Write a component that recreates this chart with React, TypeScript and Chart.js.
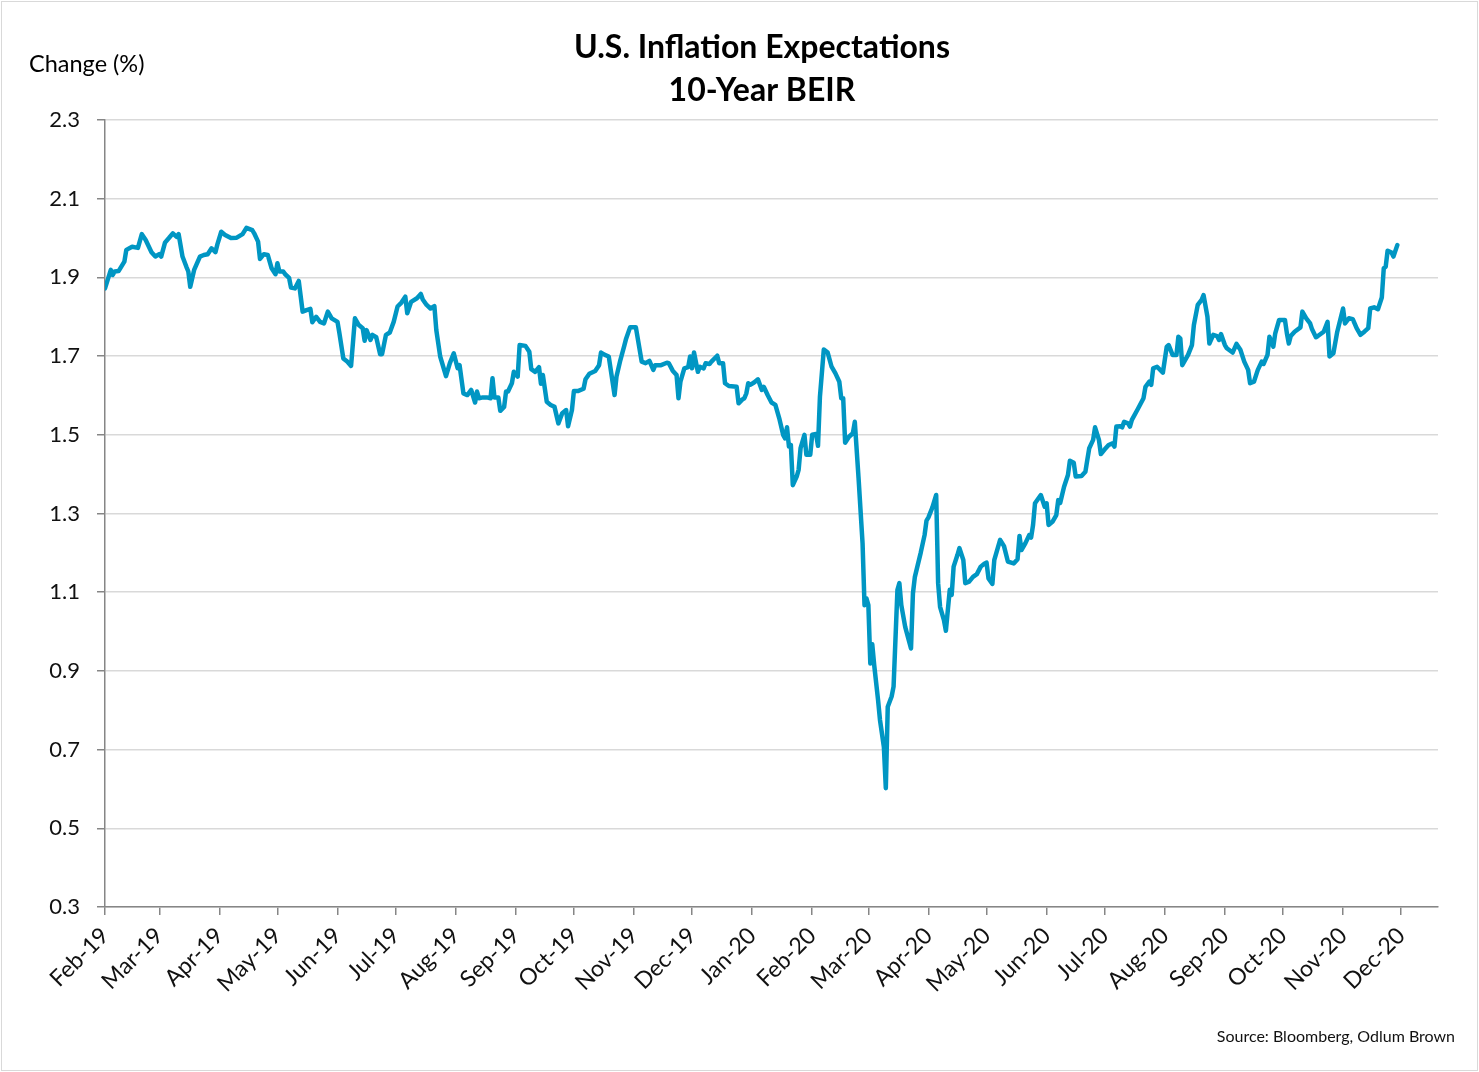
import React, { useEffect, useRef } from "react";
import { Chart, registerables } from "chart.js";

Chart.register(...registerables);

// ---- Data ----
const SERIES_NAME = "10-Year BEIR";

const dates: string[] = [
  "2019-02-01","2019-02-04","2019-02-05","2019-02-06","2019-02-08","2019-02-11","2019-02-12","2019-02-15","2019-02-18","2019-02-20",
  "2019-02-22","2019-02-25","2019-02-27","2019-03-01","2019-03-02","2019-03-04","2019-03-06","2019-03-08","2019-03-10","2019-03-11",
  "2019-03-13","2019-03-15","2019-03-16","2019-03-17","2019-03-19","2019-03-22","2019-03-24","2019-03-26","2019-03-28","2019-03-30",
  "2019-03-31","2019-04-02","2019-04-04","2019-04-07","2019-04-10","2019-04-13","2019-04-15","2019-04-18","2019-04-19","2019-04-21",
  "2019-04-22","2019-04-24","2019-04-26","2019-04-28","2019-04-30","2019-05-01","2019-05-02","2019-05-04","2019-05-05","2019-05-07",
  "2019-05-08","2019-05-10","2019-05-12","2019-05-14","2019-05-16","2019-05-18","2019-05-19","2019-05-21","2019-05-23","2019-05-25",
  "2019-05-27","2019-05-29","2019-06-01","2019-06-02","2019-06-04","2019-06-06","2019-06-08","2019-06-10","2019-06-12","2019-06-14",
  "2019-06-15","2019-06-16","2019-06-18","2019-06-19","2019-06-21","2019-06-23","2019-06-24","2019-06-26","2019-06-28","2019-06-30",
  "2019-07-02","2019-07-04","2019-07-06","2019-07-07","2019-07-09","2019-07-12","2019-07-14","2019-07-15","2019-07-17","2019-07-19",
  "2019-07-21","2019-07-22","2019-07-24","2019-07-27","2019-07-29","2019-07-31","2019-08-02","2019-08-03","2019-08-05","2019-08-07",
  "2019-08-09","2019-08-11","2019-08-12","2019-08-13","2019-08-15","2019-08-17","2019-08-19","2019-08-20","2019-08-21","2019-08-23",
  "2019-08-24","2019-08-26","2019-08-27","2019-08-28","2019-08-30","2019-08-31","2019-09-02","2019-09-03","2019-09-06","2019-09-08",
  "2019-09-09","2019-09-11","2019-09-13","2019-09-14","2019-09-15","2019-09-17","2019-09-19","2019-09-21","2019-09-23","2019-09-25",
  "2019-09-27","2019-09-28","2019-09-30","2019-10-01","2019-10-03","2019-10-06","2019-10-07","2019-10-09","2019-10-12","2019-10-14",
  "2019-10-15","2019-10-17","2019-10-19","2019-10-22","2019-10-23","2019-10-25","2019-10-27","2019-10-28","2019-10-30","2019-11-02",
  "2019-11-05","2019-11-07","2019-11-09","2019-11-11","2019-11-12","2019-11-15","2019-11-18","2019-11-19","2019-11-21","2019-11-23",
  "2019-11-24","2019-11-25","2019-11-27","2019-11-29","2019-11-30","2019-12-01","2019-12-02","2019-12-04","2019-12-05","2019-12-07",
  "2019-12-08","2019-12-10","2019-12-11","2019-12-14","2019-12-15","2019-12-17","2019-12-18","2019-12-20","2019-12-24","2019-12-25",
  "2019-12-27","2019-12-28","2019-12-29","2019-12-30","2019-12-31","2020-01-02","2020-01-04","2020-01-06","2020-01-07","2020-01-09",
  "2020-01-11","2020-01-13","2020-01-15","2020-01-17","2020-01-18","2020-01-19","2020-01-20","2020-01-21","2020-01-22","2020-01-24",
  "2020-01-25","2020-01-26","2020-01-28","2020-01-29","2020-01-31","2020-02-01","2020-02-03","2020-02-04","2020-02-05","2020-02-07",
  "2020-02-09","2020-02-11","2020-02-13","2020-02-15","2020-02-16","2020-02-17","2020-02-18","2020-02-20","2020-02-22","2020-02-23",
  "2020-02-25","2020-02-27","2020-02-28","2020-02-29","2020-03-01","2020-03-02","2020-03-03","2020-03-04","2020-03-06","2020-03-07",
  "2020-03-09","2020-03-10","2020-03-11","2020-03-13","2020-03-14","2020-03-16","2020-03-17","2020-03-18","2020-03-20","2020-03-23",
  "2020-03-24","2020-03-25","2020-03-28","2020-03-30","2020-03-31","2020-04-01","2020-04-03","2020-04-05","2020-04-06","2020-04-07",
  "2020-04-09","2020-04-10","2020-04-12","2020-04-13","2020-04-14","2020-04-16","2020-04-17","2020-04-19","2020-04-20","2020-04-22",
  "2020-04-24","2020-04-26","2020-04-28","2020-04-30","2020-05-01","2020-05-02","2020-05-04","2020-05-05","2020-05-08","2020-05-10",
  "2020-05-12","2020-05-15","2020-05-17","2020-05-18","2020-05-19","2020-05-21","2020-05-23","2020-05-24","2020-05-25","2020-05-26",
  "2020-05-29","2020-05-31","2020-06-01","2020-06-02","2020-06-04","2020-06-06","2020-06-07","2020-06-08","2020-06-10","2020-06-12",
  "2020-06-13","2020-06-15","2020-06-16","2020-06-19","2020-06-21","2020-06-22","2020-06-23","2020-06-25","2020-06-26","2020-06-28",
  "2020-06-29","2020-07-01","2020-07-03","2020-07-05","2020-07-06","2020-07-07","2020-07-09","2020-07-10","2020-07-11","2020-07-13",
  "2020-07-14","2020-07-15","2020-07-18","2020-07-21","2020-07-22","2020-07-24","2020-07-25","2020-07-26","2020-07-28","2020-07-31",
  "2020-08-02","2020-08-03","2020-08-05","2020-08-07","2020-08-08","2020-08-09","2020-08-10","2020-08-13","2020-08-15","2020-08-16",
  "2020-08-18","2020-08-20","2020-08-21","2020-08-23","2020-08-24","2020-08-26","2020-08-28","2020-08-29","2020-08-30","2020-09-01",
  "2020-09-02","2020-09-05","2020-09-07","2020-09-09","2020-09-11","2020-09-13","2020-09-14","2020-09-16","2020-09-18","2020-09-20",
  "2020-09-21","2020-09-23","2020-09-24","2020-09-26","2020-09-27","2020-09-29","2020-10-02","2020-10-03","2020-10-04","2020-10-05",
  "2020-10-07","2020-10-10","2020-10-11","2020-10-13","2020-10-15","2020-10-16","2020-10-18","2020-10-19","2020-10-22","2020-10-24",
  "2020-10-25","2020-10-27","2020-10-29","2020-11-01","2020-11-02","2020-11-04","2020-11-06","2020-11-08","2020-11-10","2020-11-12",
  "2020-11-14","2020-11-15","2020-11-17","2020-11-19","2020-11-21","2020-11-22","2020-11-23","2020-11-24","2020-11-26","2020-11-27",
  "2020-11-29",
];

const beir: number[] = [
  1.872,1.919,1.906,1.915,1.916,1.94,1.97,1.978,1.975,2.01,
  1.995,1.964,1.953,1.959,1.953,1.989,2.0,2.012,2.003,2.01,
  1.953,1.927,1.915,1.876,1.919,1.953,1.957,1.959,1.974,1.964,
  1.984,2.016,2.008,2.0,2.001,2.01,2.026,2.02,2.012,1.991,
  1.947,1.959,1.957,1.923,1.908,1.936,1.915,1.915,1.908,1.899,
  1.874,1.872,1.891,1.813,1.817,1.82,1.786,1.8,1.787,1.783,
  1.813,1.796,1.787,1.758,1.694,1.686,1.675,1.796,1.779,1.771,
  1.739,1.766,1.741,1.754,1.748,1.705,1.705,1.754,1.76,1.787,
  1.826,1.836,1.851,1.809,1.838,1.847,1.858,1.844,1.83,1.821,
  1.827,1.766,1.699,1.649,1.682,1.707,1.669,1.677,1.605,1.601,
  1.614,1.582,1.61,1.593,1.595,1.595,1.593,1.644,1.595,1.595,
  1.561,1.571,1.61,1.61,1.631,1.66,1.648,1.728,1.726,1.711,
  1.667,1.66,1.672,1.63,1.652,1.584,1.576,1.571,1.529,1.555,
  1.563,1.522,1.563,1.611,1.611,1.617,1.641,1.655,1.662,1.677,
  1.709,1.703,1.699,1.601,1.648,1.69,1.726,1.745,1.773,1.773,
  1.686,1.682,1.688,1.665,1.677,1.677,1.683,1.682,1.663,1.652,
  1.593,1.635,1.669,1.672,1.699,1.669,1.709,1.66,1.673,1.669,
  1.682,1.68,1.686,1.701,1.682,1.682,1.631,1.624,1.622,1.58,
  1.59,1.593,1.605,1.631,1.627,1.633,1.641,1.614,1.622,1.601,
  1.582,1.576,1.542,1.5,1.491,1.519,1.47,1.474,1.372,1.394,
  1.411,1.466,1.5,1.449,1.449,1.5,1.502,1.472,1.597,1.717,
  1.709,1.673,1.656,1.635,1.593,1.593,1.48,1.495,1.504,1.533,
  1.385,1.224,1.067,1.084,1.067,0.919,0.968,0.915,0.826,0.775,
  0.707,0.602,0.809,0.835,0.86,1.106,1.123,1.067,1.012,0.957,
  1.097,1.139,1.2,1.245,1.282,1.29,1.315,1.347,1.123,1.063,
  1.029,1.002,1.106,1.093,1.165,1.195,1.212,1.182,1.123,1.127,
  1.139,1.146,1.165,1.173,1.175,1.135,1.121,1.182,1.233,1.217,
  1.178,1.173,1.184,1.243,1.207,1.224,1.245,1.239,1.271,1.326,
  1.347,1.317,1.326,1.271,1.279,1.296,1.334,1.327,1.368,1.398,
  1.434,1.429,1.394,1.395,1.406,1.436,1.466,1.487,1.519,1.487,
  1.451,1.463,1.474,1.478,1.47,1.521,1.522,1.519,1.533,1.529,
  1.521,1.538,1.565,1.593,1.622,1.635,1.627,1.669,1.673,1.658,
  1.724,1.728,1.703,1.703,1.749,1.745,1.677,1.703,1.728,1.779,
  1.83,1.843,1.855,1.8,1.732,1.754,1.751,1.741,1.756,1.728,
  1.72,1.709,1.731,1.716,1.686,1.665,1.631,1.635,1.665,1.686,
  1.68,1.703,1.749,1.724,1.758,1.792,1.792,1.758,1.732,1.751,
  1.762,1.773,1.813,1.796,1.783,1.768,1.748,1.751,1.762,1.787,
  1.699,1.707,1.762,1.821,1.783,1.796,1.794,1.771,1.754,1.762,
  1.771,1.821,1.824,1.819,1.849,1.923,1.927,1.968,1.963,1.953,
  1.982,
];

const xTickDates: string[] = [
  "2019-02-01","2019-03-01","2019-04-01","2019-05-01","2019-06-01","2019-07-01","2019-08-01","2019-09-01",
  "2019-10-01","2019-11-01","2019-12-01","2020-01-01","2020-02-01","2020-03-01","2020-04-01","2020-05-01",
  "2020-06-01","2020-07-01","2020-08-01","2020-09-01","2020-10-01","2020-11-01","2020-12-01",
];
const xTickLabels: string[] = [
  "Feb-19","Mar-19","Apr-19","May-19","Jun-19","Jul-19","Aug-19","Sep-19",
  "Oct-19","Nov-19","Dec-19","Jan-20","Feb-20","Mar-20","Apr-20","May-20",
  "Jun-20","Jul-20","Aug-20","Sep-20","Oct-20","Nov-20","Dec-20",
];
const AXIS_START = "2019-02-01";
const AXIS_END = "2020-12-20";

const yTicks: number[] = [0.3, 0.5, 0.7, 0.9, 1.1, 1.3, 1.5, 1.7, 1.9, 2.1, 2.3];

const TITLE_LINES = ["U.S. Inflation Expectations", "10-Year BEIR"];
const Y_LABEL = "Change (%)";
const SOURCE = "Source: Bloomberg, Odlum Brown";

// ---- helpers ----
const dayIndex = (s: string): number => {
  const [y, m, d] = s.split("-").map(Number);
  const [y0, m0, d0] = AXIS_START.split("-").map(Number);
  return Math.round((Date.UTC(y, m - 1, d) - Date.UTC(y0, m0 - 1, d0)) / 86400000);
};

const FONT = "Lato, 'Open Sans', sans-serif";
const W = 1479;
const H = 1072;

const textPlugin = {
  id: "textPlugin",
  beforeDraw(chart: any) {
    const ctx = chart.ctx;
    ctx.save();
    ctx.fillStyle = "#ffffff";
    ctx.fillRect(0, 0, chart.width, chart.height);
    ctx.restore();
  },
  afterDraw(chart: any) {
    const ctx = chart.ctx;
    ctx.save();
    ctx.strokeStyle = "#d9d9d9";
    ctx.lineWidth = 1;
    ctx.strokeRect(1.5, 1.5, chart.width - 3, chart.height - 3);

    ctx.fillStyle = "#000000";
    ctx.textAlign = "center";
    ctx.textBaseline = "middle";
    ctx.font = `bold 32px ${FONT}`;
    ctx.fillText(TITLE_LINES[0], 762, 48);
    ctx.fillText(TITLE_LINES[1], 762, 91);

    ctx.textAlign = "left";
    ctx.font = `23.5px ${FONT}`;
    ctx.fillText(Y_LABEL, 29, 64);

    ctx.textAlign = "right";
    ctx.font = `16px ${FONT}`;
    ctx.fillStyle = "#111111";
    ctx.fillText(SOURCE, 1455, 1037);
    ctx.restore();
  },
};

export default function App() {
  const canvasRef = useRef<HTMLCanvasElement | null>(null);

  useEffect(() => {
    document.body.style.margin = "0";
    const canvas = canvasRef.current;
    if (!canvas) return;

    const points = dates.map((d, i) => ({ x: dayIndex(d), y: beir[i] }));
    const tickOffsets = xTickDates.map(dayIndex);

    const chart = new Chart(canvas, {
      type: "line",
      data: {
        datasets: [
          {
            label: SERIES_NAME,
            data: points,
            borderColor: "#0096c3",
            borderWidth: 4.5,
            pointRadius: 0,
            tension: 0,
            borderJoinStyle: "round",
            borderCapStyle: "round",
            fill: false,
          },
        ],
      },
      options: {
        animation: false,
        responsive: false,
        maintainAspectRatio: false,
        layout: { padding: { left: 0, right: 41, top: 120, bottom: 0 } },
        plugins: {
          legend: { display: false },
          tooltip: { enabled: false },
          title: { display: false },
        },
        scales: {
          x: {
            type: "linear",
            min: 0,
            max: dayIndex(AXIS_END),
            afterBuildTicks: (scale: any) => {
              scale.ticks = tickOffsets.map((v) => ({ value: v }));
            },
            afterFit: (scale: any) => {
              scale.height = H - 907;
            },
            ticks: {
              autoSkip: false,
              maxRotation: 45,
              minRotation: 45,
              padding: 7,
              color: "#111111",
              font: { family: FONT, size: 23 },
              callback: (_v: any, i: number) => xTickLabels[i],
            },
            grid: {
              drawOnChartArea: false,
              drawTicks: true,
              tickLength: 8,
              tickColor: "#868686",
              color: "#868686",
              lineWidth: 1.5,
            },
            border: { display: true, color: "#868686", width: 1.5 },
          },
          y: {
            type: "linear",
            min: 0.3,
            max: 2.3,
            afterBuildTicks: (scale: any) => {
              scale.ticks = yTicks.map((v) => ({ value: v }));
            },
            afterFit: (scale: any) => {
              scale.width = 105;
            },
            ticks: {
              padding: 17,
              color: "#111111",
              font: { family: FONT, size: 22 },
              callback: (v: any) => Number(v).toFixed(1),
            },
            grid: {
              color: "#d9d9d9",
              lineWidth: 1.5,
              drawTicks: true,
              tickLength: 8,
              tickColor: "#868686",
            },
            border: { display: true, color: "#868686", width: 1.5 },
          },
        },
      },
      plugins: [textPlugin],
    } as any);

    return () => chart.destroy();
  }, []);

  return (
    <div style={{ width: W, height: H }}>
      <canvas ref={canvasRef} width={W} height={H} style={{ display: "block", width: W, height: H }} />
    </div>
  );
}
